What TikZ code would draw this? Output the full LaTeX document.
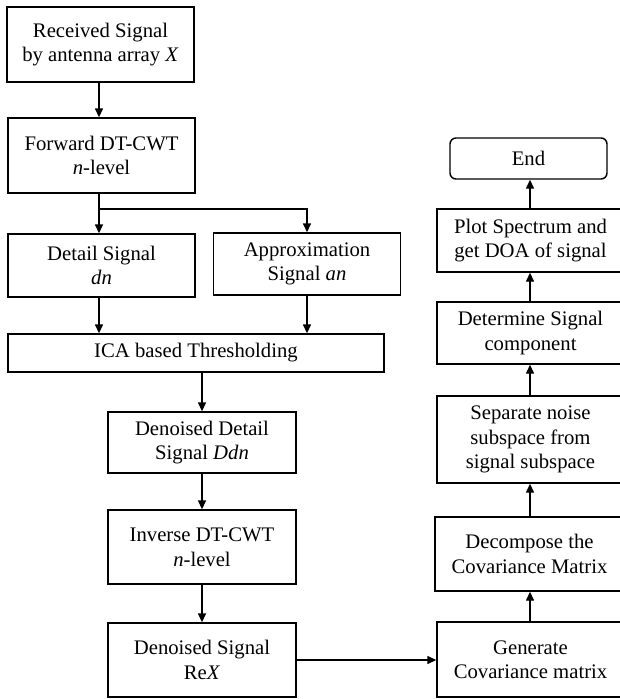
\documentclass[tikz,border=0pt]{standalone}
\usepackage{fontspec}
\setmainfont{Liberation Serif}
\usetikzlibrary{arrows.meta}
\begin{document}
\begin{tikzpicture}[x=1pt,y=-1pt,
  box/.style={draw, line width=1.4pt, rectangle, inner sep=0pt, align=center,
    font=\fontsize{20.7}{24.5}\selectfont, text=black},
  arr/.style={line width=1.4pt, -{Triangle[length=9pt,width=8pt]}}]
\useasboundingbox (0,0) rectangle (620,699);
\clip (0,0) rectangle (620,699);
\fill[white] (0,0) rectangle (620,699);
% left column
\node[box, minimum width=187pt, minimum height=75pt] (rx) at (100.5,44.5) {Received Signal\\by antenna array \textit{X}};
\node[box, minimum width=187pt, minimum height=75pt] (fw) at (101.5,155.5) {Forward DT-CWT\\\textit{n}-level};
\node[box, minimum width=187pt, minimum height=63pt] (det) at (101.5,265.5) {Detail Signal\\\textit{dn}};
\node[box, minimum width=187pt, minimum height=62pt] (app) at (307,264) {Approximation\\Signal \textit{an}};
\node[box, minimum width=376pt, minimum height=38pt] (ica) at (196,353) {ICA based Thresholding};
\node[box, minimum width=188pt, minimum height=61pt] (dd) at (202,442.5) {Denoised Detail\\Signal \textit{Ddn}};
\node[box, minimum width=188pt, minimum height=74pt] (inv) at (202,547) {Inverse DT-CWT\\\textit{n}-level};
\node[box, minimum width=188pt, minimum height=74pt] (ds) at (202,660) {Denoised Signal\\Re\textit{X}};
% right column
\node[box, minimum width=187pt, minimum height=75pt] (gen) at (530.5,659.5) {Generate\\Covariance matrix};
\node[box, minimum width=189pt, minimum height=74pt] (dec) at (529.5,554) {Decompose the\\Covariance Matrix};
\node[box, minimum width=187pt, minimum height=87pt] (sep) at (530.5,439.5) {Separate noise\\subspace from\\signal subspace};
\node[box, minimum width=187pt, minimum height=62pt] (dsc) at (530.5,333) {Determine Signal\\component};
\node[box, minimum width=187pt, minimum height=63pt] (plot) at (530.5,240.5) {Plot Spectrum and\\get DOA of signal};
\node[box, rounded corners=6pt, minimum width=157pt, minimum height=41pt] (end) at (528.5,158.5) {End};
% coordinates
\coordinate (lx) at (99,0);
\coordinate (br) at (99,209);
\coordinate (rx2) at (530,0);
% connectors
\draw[arr] (lx |- rx.south) -- (lx |- fw.north);
\draw[arr] (lx |- fw.south) -- (lx |- det.north);
\draw[arr] (br) -| (app.north);
\draw[arr] (lx |- det.south) -- (lx |- ica.north);
\draw[arr] (app.south) -- (app.south |- ica.north);
\draw[arr] (dd.north |- ica.south) -- (dd.north);
\draw[arr] (dd.south) -- (inv.north);
\draw[arr] (inv.south) -- (ds.north);
\draw[arr] (ds.east) -- (ds.east -| gen.west);
\draw[arr] (rx2 |- gen.north) -- (rx2 |- dec.south);
\draw[arr] (rx2 |- dec.north) -- (rx2 |- sep.south);
\draw[arr] (rx2 |- sep.north) -- (rx2 |- dsc.south);
\draw[arr] (rx2 |- dsc.north) -- (rx2 |- plot.south);
\draw[arr] (rx2 |- plot.north) -- (rx2 |- end.south);
\end{tikzpicture}
\end{document}
